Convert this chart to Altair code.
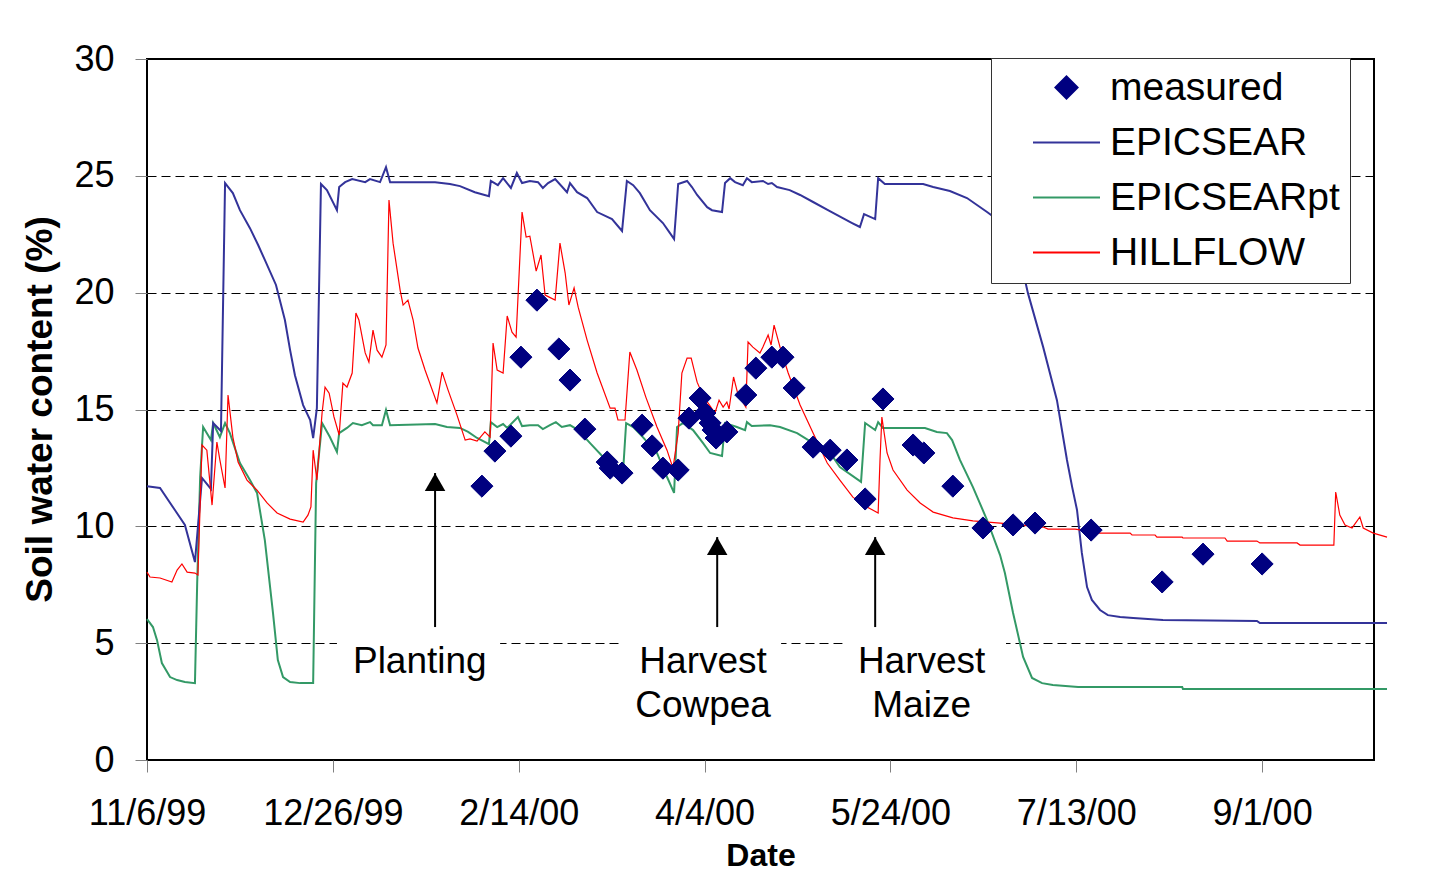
import altair as alt
import pandas as pd

# x values are days after 11/6/99 (day 0); y values are soil water content (%)
series_names = ["measured", "EPICSEAR", "EPICSEARpt", "HILLFLOW"]
series_colors = ["#000080", "#333399", "#339966", "#FF0000"]
series_fills = ["#000080", "transparent", "transparent", "transparent"]
DIAMOND = "M-0.33,0L0,-0.33L0.33,0L0,0.33Z"
series_shapes = [DIAMOND, "stroke", "stroke", "stroke"]

epic_day = [0, 3.5, 7.5, 10.2, 12.9, 14.8, 17.2, 17.8, 19.9, 21.0, 23.1, 25.0, 27.7, 29.9, 31.7,
            34.7, 37.1, 38.5, 39.8, 42.0, 43.9, 44.7, 45.7, 46.8, 48.4, 51.1, 51.7, 53.3, 55.2,
            58.7, 60.0, 62.7, 64.3, 65.4, 77.5, 81.5, 84.2, 88.2, 92.0, 92.5, 94.4, 95.8, 97.9,
            99.5, 100.9, 103.0, 105.2, 106.5, 107.9, 109.8, 113.0, 113.8, 115.7, 118.4, 121.1,
            125.1, 127.8, 129.1, 130.8, 132.6, 135.3, 138.8, 140.7, 141.8, 142.9, 145.3, 146.6,
            148.0, 150.7, 152.0, 154.7, 155.5, 156.9, 158.2, 160.3, 161.4, 162.7, 165.7, 167.1,
            168.1, 169.5, 172.9, 175.7, 179.2, 183.2, 189.7, 191.8, 192.9, 195.9, 196.7, 198.5,
            208.8, 211.5, 216.0, 220.6, 226.0, 230.8, 234.3, 236.2, 237.0, 241.1, 244.8, 247.5,
            248.9, 250.2, 251.5, 252.9, 254.2, 256.4, 258.5, 261.8, 265.3, 273.3, 298.6, 299.4,
            333.6]
epic_val = [11.72, 11.64, 10.70, 10.06, 8.47, 12.07, 11.60, 14.42, 14.08, 24.69, 24.26, 23.53,
            22.76, 22.04, 21.40, 20.33, 18.83, 17.54, 16.47, 15.19, 14.55, 13.78, 15.06, 24.65,
            24.39, 23.53, 24.52, 24.73, 24.86, 24.73, 24.86, 24.73, 25.37, 24.73, 24.73, 24.65,
            24.56, 24.30, 24.13, 24.78, 24.60, 24.90, 24.48, 25.12, 24.69, 24.78, 24.73, 24.48,
            24.69, 24.86, 24.30, 24.69, 24.30, 24.05, 23.45, 23.15, 22.64, 24.78, 24.60, 24.26,
            23.53, 22.98, 22.55, 22.29, 24.65, 24.78, 24.52, 24.18, 23.66, 23.53, 23.45, 24.69,
            24.90, 24.73, 24.60, 24.90, 24.73, 24.78, 24.65, 24.69, 24.52, 24.39, 24.18, 23.88,
            23.53, 22.98, 22.81, 23.36, 23.15, 24.90, 24.65, 24.65, 24.52, 24.35, 24.05, 23.45,
            22.89, 21.82, 20.54, 19.98, 17.67, 15.40, 12.84, 11.68, 10.70, 8.86, 7.40, 6.85,
            6.42, 6.20, 6.12, 6.08, 5.99, 5.95, 5.86, 5.86]

pt_day = [0, 1.6, 2.7, 4.0, 6.2, 8.1, 10.2, 12.9, 13.5, 14.3, 15.1, 17.2, 17.8, 19.6, 21.0, 22.3,
          25.0, 27.7, 29.6, 31.7, 33.9, 35.2, 36.6, 38.5, 41.2, 44.7, 45.5, 47.1, 49.2, 51.1,
          51.7, 53.8, 55.4, 57.8, 60.0, 60.8, 63.2, 64.3, 65.4, 77.5, 80.7, 84.2, 86.4, 88.8,
          92.0, 92.5, 94.2, 95.8, 96.9, 99.8, 100.9, 103.0, 105.2, 106.5, 108.4, 110.0, 111.6,
          113.8, 116.0, 119.2, 122.7, 125.9, 128.1, 128.9, 130.8, 133.4, 137.2, 139.9, 141.8,
          142.6, 144.2, 146.9, 149.6, 151.5, 154.7, 155.5, 158.7, 160.9, 161.4, 162.7, 167.6,
          170.3, 174.9, 179.2, 183.8, 186.4, 192.1, 193.2, 195.9, 196.7, 198.0, 209.3, 212.5,
          215.2, 216.6, 218.7, 222.2, 226.0, 229.5, 230.8, 233.0, 235.7, 238.1, 240.8, 243.7,
          250.5, 278.5, 278.7, 333.6]
pt_val = [6.03, 5.69, 5.13, 4.15, 3.55, 3.42, 3.34, 3.29, 7.57, 12.11, 14.25, 13.69, 14.42, 13.82,
          14.42, 13.99, 12.71, 11.98, 11.43, 9.41, 6.29, 4.28, 3.55, 3.34, 3.29, 3.29, 11.85,
          14.42, 13.82, 13.18, 13.99, 14.21, 14.42, 14.33, 14.46, 14.33, 14.33, 14.98, 14.33,
          14.38, 14.25, 14.21, 14.04, 13.78, 13.52, 14.46, 14.25, 14.38, 14.21, 14.68, 14.29,
          14.33, 14.33, 14.16, 14.33, 14.46, 14.25, 14.33, 14.12, 13.56, 12.97, 12.62, 12.41,
          14.42, 14.25, 13.82, 13.14, 12.11, 11.43, 14.25, 14.42, 14.12, 13.56, 13.14, 13.01,
          14.42, 14.25, 14.12, 14.46, 14.29, 14.33, 14.25, 13.99, 13.56, 13.14, 12.54, 11.90,
          14.42, 14.12, 14.46, 14.21, 14.21, 14.04, 13.99, 13.69, 12.84, 11.68, 10.27, 8.77,
          8.00, 6.29, 4.41, 3.51, 3.29, 3.21, 3.12, 3.12, 3.04, 3.04]

hill_day = [0, 0.8, 3.5, 6.7, 8.1, 9.4, 10.8, 12.9, 13.7, 14.8, 16.1, 17.5, 18.8, 19.6, 21.0,
            21.8, 23.1, 24.5, 26.9, 29.6, 32.3, 35.0, 38.5, 42.0, 43.3, 44.1, 44.7, 45.7, 47.1,
            47.9, 49.0, 50.3, 51.7, 52.7, 53.8, 55.2, 56.2, 57.0, 58.7, 59.7, 60.8, 61.9, 63.2,
            64.3, 65.1, 66.2, 68.1, 68.9, 70.2, 71.6, 72.9, 74.8, 78.0, 79.4, 81.0, 83.4, 85.6,
            86.9, 88.8, 90.9, 92.3, 93.1, 94.2, 95.8, 96.9, 98.2, 99.3, 100.9, 102.0, 103.0,
            104.7, 106.0, 107.1, 108.2, 109.8, 111.1, 112.5, 113.5, 114.9, 116.0, 118.4, 121.1,
            124.6, 125.9, 126.7, 128.6, 129.9, 131.8, 134.2, 137.2, 139.9, 141.5, 142.9, 143.9,
            145.3, 146.4, 148.0, 149.3, 150.9, 152.8, 153.9, 155.0, 156.0, 156.6, 157.8, 158.9,
            161.1, 161.7, 163.0, 164.9, 165.7, 167.1, 167.9, 168.7, 170.3, 172.5, 175.7, 179.2,
            183.0, 186.4, 189.9, 193.7, 196.7, 197.2, 197.7, 199.1, 200.7, 204.5, 208.0, 211.5,
            216.8, 222.2, 229.5, 241.1, 242.4, 249.7, 256.4, 264.5, 265.0, 271.2, 271.7, 278.5,
            278.7, 290.0, 290.6, 298.6, 299.4, 309.4, 310.2, 319.3, 319.8, 320.9, 322.3, 324.2,
            326.3, 327.2, 329.9, 333.6]
hill_val = [8.04, 7.83, 7.79, 7.62, 8.13, 8.39, 8.04, 8.00, 7.92, 13.48, 13.26, 10.91, 13.61,
            12.84, 11.64, 15.62, 13.82, 12.75, 11.98, 11.55, 11.00, 10.57, 10.31, 10.18, 10.48,
            10.83, 13.26, 11.98, 14.85, 15.96, 15.70, 14.68, 13.91, 16.13, 15.96, 16.56, 19.13,
            18.83, 17.42, 17.03, 18.40, 17.54, 17.24, 17.76, 23.96, 22.12, 20.11, 19.47, 19.68,
            18.83, 17.63, 16.69, 15.28, 16.60, 15.83, 14.76, 13.69, 13.74, 13.65, 14.04, 13.82,
            17.84, 16.69, 16.56, 19.00, 18.31, 18.10, 23.45, 22.38, 22.42, 20.92, 21.61, 19.90,
            19.81, 19.68, 22.12, 20.84, 19.47, 20.20, 19.38, 17.97, 16.56, 15.06, 15.06, 14.55,
            14.55, 17.46, 16.69, 15.53, 14.25, 13.26, 12.49, 13.99, 16.56, 17.20, 17.20, 16.17,
            15.70, 15.28, 14.85, 15.40, 15.10, 15.32, 15.02, 16.39, 15.70, 15.10, 17.89, 17.67,
            17.42, 17.67, 18.19, 17.76, 18.61, 17.67, 16.56, 15.19, 13.99, 12.71, 11.98, 11.25,
            10.83, 10.57, 12.84, 14.68, 13.14, 12.41, 11.55, 11.00, 10.61, 10.36, 10.23, 10.14,
            9.97, 9.88, 9.88, 9.71, 9.71, 9.63, 9.63, 9.54, 9.54, 9.50, 9.50, 9.37, 9.37, 9.29,
            9.29, 9.20, 9.20, 11.47, 10.48, 10.06, 9.93, 10.40, 9.93, 9.71, 9.54]

meas_day = [90.1, 93.6, 97.9, 100.6, 104.9, 110.8, 113.8, 117.8, 123.8, 124.6, 127.8, 133.2,
            135.9, 138.8, 142.9, 145.8, 148.8, 150.1, 151.5, 152.3, 153.1, 156.0, 161.1, 163.8,
            168.1, 171.1, 174.1, 179.2, 183.8, 188.3, 193.2, 198.0, 206.1, 209.0, 216.8, 224.9,
            233.0, 238.9, 254.0, 273.1, 284.1, 300.0]
meas_val = [11.72, 13.22, 13.86, 17.24, 19.68, 17.59, 16.26, 14.16, 12.75, 12.49, 12.28, 14.33,
            13.44, 12.49, 12.41, 14.63, 15.49, 14.85, 14.42, 14.12, 13.78, 14.04, 15.62, 16.77,
            17.24, 17.24, 15.92, 13.39, 13.26, 12.84, 11.17, 15.45, 13.48, 13.14, 11.72, 9.93,
            10.06, 10.14, 9.84, 7.62, 8.81, 8.39]

x_ticks = [0, 50, 100, 150, 200, 250, 300]
y_ticks = [0, 5, 10, 15, 20, 25, 30]

arrow_day = [77.5, 153.4, 195.9]
arrow_tip = [12.28, 9.54, 9.54]
arrow_base = [5.69, 5.69, 5.69]

note_text = ["Planting", "Harvest", "Cowpea", "Harvest", "Maize"]
note_day = [73.4, 149.6, 149.6, 208.4, 208.4]
note_val = [4.19, 4.19, 2.31, 4.19, 2.31]

box_day = [51.1, 127.8, 187.2]
box_day2 = [95.0, 170.6, 231.1]
box_val = [1.5, 1.5, 1.5]
box_val2 = [5.3, 5.3, 5.3]

for a, b in [(epic_day, epic_val), (pt_day, pt_val), (hill_day, hill_val), (meas_day, meas_val)]:
    assert len(a) == len(b), (len(a), len(b))

FONT = "Liberation Sans"

df_pt = pd.DataFrame({"day": pt_day, "value": pt_val, "series": "EPICSEARpt"})
df_epic = pd.DataFrame({"day": epic_day, "value": epic_val, "series": "EPICSEAR"})
df_hill = pd.DataFrame({"day": hill_day, "value": hill_val, "series": "HILLFLOW"})
df_meas = pd.DataFrame({"day": meas_day, "value": meas_val, "series": "measured"})
df_shaft = pd.DataFrame({"day": arrow_day, "value": arrow_base, "tip": arrow_tip})
df_head = pd.DataFrame({"day": arrow_day, "value": arrow_tip})
df_note = pd.DataFrame({"day": note_day, "value": note_val, "label": note_text})
df_box = pd.DataFrame({"day": box_day, "day2": box_day2, "value": box_val, "value2": box_val2})

x_enc = alt.X(
    "day:Q",
    scale=alt.Scale(domain=[0, 330.1], nice=False, zero=False),
    axis=alt.Axis(
        values=x_ticks,
        labelExpr="timeFormat(datetime(1999, 10, 6 + datum.value), '%-m/%-d/%y')",
        title="Date",
        titleFont=FONT, titleFontSize=32, titleFontWeight="bold", titleColor="black",
        titleY=105, titleBaseline="alphabetic",
        labelFont=FONT, labelFontSize=36, labelColor="black",
        labelBaseline="middle", labelPadding=41, labelFlush=False, labelOverlap=False,
        tickColor="#808080", tickSize=12, tickWidth=1,
        domain=False, grid=False,
    ),
)
y_enc = alt.Y(
    "value:Q",
    scale=alt.Scale(domain=[0, 30], nice=False, zero=False),
    axis=alt.Axis(
        values=y_ticks,
        title="Soil water content (%)",
        titleFont=FONT, titleFontSize=37, titleFontWeight="bold", titleColor="black",
        titleX=-107, titleY=350, titleBaseline="middle", titleAlign="center", titleAngle=270,
        labelFont=FONT, labelFontSize=36, labelColor="black", labelPadding=21,
        tickColor="#808080", tickSize=12, tickWidth=1,
        domain=False, grid=True, gridDash=[9, 5], gridColor="black", gridWidth=1, gridOpacity=1,
    ),
)

legend = alt.Legend(
    title=None, orient="none", legendX=844, legendY=-1, direction="vertical",
    labelFont=FONT, labelFontSize=39, labelColor="black", labelLimit=500,
    fillColor="white", strokeColor="#333333", padding=10, rowPadding=15, clipHeight=39,
    symbolSize=4489, symbolOffset=31, labelOffset=9, symbolOpacity=1, symbolStrokeWidth=2,
)
color_enc = alt.Color("series:N", scale=alt.Scale(domain=series_names, range=series_colors), legend=legend)
fill_enc = alt.Fill("series:N", scale=alt.Scale(domain=series_names, range=series_fills), legend=legend)
shape_enc = alt.Shape("series:N", scale=alt.Scale(domain=series_names, range=series_shapes), legend=legend)

boxes = alt.Chart(df_box).mark_rect(color="white").encode(
    x=x_enc, x2="day2:Q", y=y_enc, y2="value2:Q"
)
line_pt = alt.Chart(df_pt).mark_line(strokeWidth=2).encode(x=x_enc, y=y_enc, color=color_enc)
line_epic = alt.Chart(df_epic).mark_line(strokeWidth=2).encode(x=x_enc, y=y_enc, color=color_enc)
line_hill = alt.Chart(df_hill).mark_line(strokeWidth=1.2).encode(x=x_enc, y=y_enc, color=color_enc)
points = alt.Chart(df_meas).mark_point(filled=False, size=4489, opacity=1, strokeWidth=1).encode(
    x=x_enc, y=y_enc, color=color_enc, fill=fill_enc, shape=shape_enc
)
shafts = alt.Chart(df_shaft).mark_rule(color="black", strokeWidth=2).encode(
    x=x_enc, y=y_enc, y2="tip:Q"
)
heads = alt.Chart(df_head).mark_point(
    shape="triangle-up", filled=True, size=420, color="black", opacity=1, yOffset=9
).encode(x=x_enc, y=y_enc)
notes = alt.Chart(df_note).mark_text(
    font=FONT, fontSize=37, color="black", align="center", baseline="middle"
).encode(x=x_enc, y=y_enc, text="label:N")

chart = alt.layer(
    boxes, line_pt, line_epic, line_hill, points, shafts, heads, notes
).properties(
    width=1227,
    height=701,
    autosize=alt.AutoSizeParams(type="none"),
    padding={"left": 139, "top": 51, "right": 57, "bottom": 112},
    background="white",
).configure_view(stroke="black", strokeWidth=2)

chart.save("out.html", embed_options={"renderer": "svg", "actions": False})
